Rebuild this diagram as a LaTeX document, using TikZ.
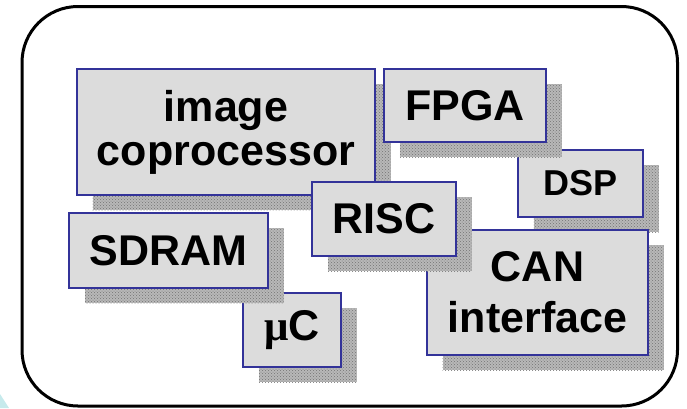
\documentclass[tikz,border=0pt]{standalone}
\usepackage{fontspec}
\setmainfont{Liberation Sans}
\newfontfamily\serifmu{Liberation Serif}
\usetikzlibrary{shadows,patterns}
\definecolor{boxedge}{RGB}{51,51,153}
\definecolor{boxfill}{RGB}{220,220,220}
\definecolor{shadebase}{RGB}{184,184,184}
\definecolor{shadedot}{RGB}{115,115,115}
\definecolor{cornertint}{RGB}{198,234,236}
\tikzset{
  chip/.style={draw=boxedge, fill=boxfill, line width=2.6pt, rectangle,
    inner sep=0pt, align=center,
    font=\fontsize{43}{44}\selectfont\bfseries,
    general shadow={shadow xshift=15.5pt, shadow yshift=-15pt, fill=shadebase},
    general shadow={shadow xshift=15.5pt, shadow yshift=-15pt,
      pattern=crosshatch dots, pattern color=shadedot}},
  frame/.style={line width=3pt, rounded corners=56pt},
}
\begin{document}
\begin{tikzpicture}[x=1pt,y=-1pt]
\useasboundingbox (0,0) rectangle (687,408);
% pale corner tint
\fill[cornertint] (0,394) -- (9,408) -- (0,408) -- cycle;
% outer frame
\draw[frame] (22,6.5) rectangle (677.5,406);
% blocks, back to front
\node[chip, minimum width=98pt, minimum height=74pt] (muc) at (292,330) {{\serifmu μ}C};
\node[chip, minimum width=199pt, minimum height=75pt] (sdram) at (168.5,250.5) {SDRAM};
\node[chip, minimum width=125pt, minimum height=67pt,
      font=\fontsize{36}{38}\selectfont\bfseries] (dsp) at (580.5,183.5) {DSP};
\node[chip, minimum width=221pt, minimum height=125pt,
      font=\fontsize{43}{51}\selectfont\bfseries] (can) at (537.5,292.5) {CAN\\interface};
\node[chip, minimum width=298pt, minimum height=126pt] (img) at (226,132) {image\\coprocessor};
\node[chip, minimum width=144pt, minimum height=74pt] (risc) at (384,219) {RISC};
\node[chip, minimum width=162pt, minimum height=73pt] (fpga) at (465,105.5) {FPGA};
\end{tikzpicture}
\end{document}
